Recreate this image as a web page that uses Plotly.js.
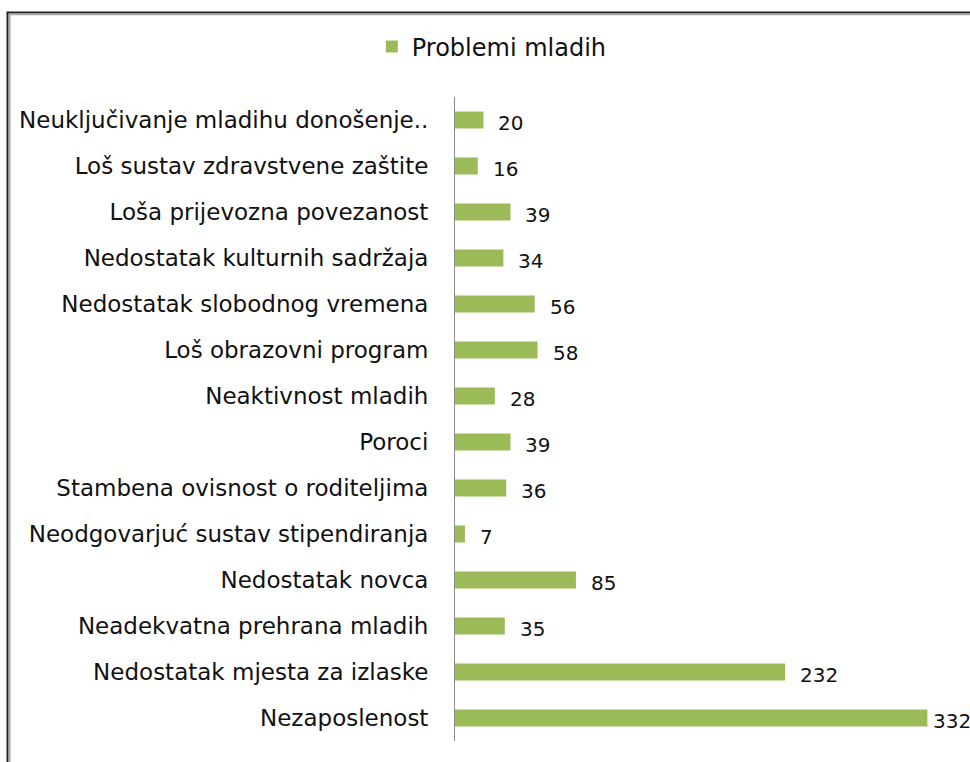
<!DOCTYPE html>
<html>
<head>
<meta charset="utf-8">
<script src="https://cdn.plot.ly/plotly-3.0.1.min.js"></script>
<style>html,body{margin:0;padding:0;background:#fff;}#chart{width:970px;height:762px;}</style>
</head>
<body>
<div id="chart"></div>
<script>
var categories = [
  "Neuključivanje mladihu donošenje..",
  "Loš sustav zdravstvene zaštite",
  "Loša prijevozna povezanost",
  "Nedostatak kulturnih sadržaja",
  "Nedostatak slobodnog vremena",
  "Loš obrazovni program",
  "Neaktivnost mladih",
  "Poroci",
  "Stambena ovisnost o roditeljima",
  "Neodgovarjuć sustav stipendiranja",
  "Nedostatak novca",
  "Neadekvatna prehrana mladih",
  "Nedostatak mjesta za izlaske",
  "Nezaposlenost"
];
var values = [20, 16, 39, 34, 56, 58, 28, 39, 36, 7, 85, 35, 232, 332];
var labelShift = [13, 13, 13, 13, 13, 13, 13, 13, 13, 13, 13, 13, 13, 4];
var seriesName = "Problemi mladih";

var FONT = "DejaVu Sans, Noto Sans, sans-serif";

var trace = {
  type: "bar",
  orientation: "h",
  name: seriesName,
  y: categories,
  x: values,
  marker: {color: "#9bbb59"},
  width: 0.37,
  showlegend: true,
  hoverinfo: "x+y"
};

var annotations = values.map(function (v, i) {
  return {
    x: v, y: categories[i], xref: "x", yref: "y",
    text: String(v), showarrow: false,
    xanchor: "left", yanchor: "middle",
    xshift: labelShift[i], yshift: -3,
    font: {family: FONT, size: 20, color: "#111"}
  };
});

var layout = {
  width: 970, height: 762,
  margin: {l: 455, r: 17, t: 97, b: 21},
  paper_bgcolor: "#ffffff",
  plot_bgcolor: "#ffffff",
  font: {family: FONT, size: 21, color: "#111"},
  bargap: 0.63,
  xaxis: {
    range: [0, 350],
    visible: false,
    showgrid: false,
    zeroline: false,
    fixedrange: true
  },
  yaxis: {
    autorange: "reversed",
    showline: true,
    linecolor: "#8c8c8c",
    linewidth: 1,
    ticks: "",
    showgrid: false,
    zeroline: false,
    ticklabelstandoff: 21,
    tickfont: {family: FONT, size: 23, color: "#111"}
  },
  showlegend: true,
  legend: {
    orientation: "h",
    xref: "container", yref: "container",
    x: 0.507, xanchor: "center",
    y: 1 - 47 / 762, yanchor: "middle",
    font: {family: FONT, size: 24, color: "#111"},
    bgcolor: "rgba(0,0,0,0)"
  },
  annotations: annotations,
  shapes: [
    {type: "line", xref: "paper", yref: "paper",
     x0: (8 - 455) / 498, x1: (990 - 455) / 498,
     y0: 1 + (97 - 12.5) / 644, y1: 1 + (97 - 12.5) / 644,
     line: {color: "#222", width: 2}},
    {type: "line", xref: "paper", yref: "paper",
     x0: (9 - 455) / 498, x1: (990 - 455) / 498,
     y0: 1 + (97 - 14.5) / 644, y1: 1 + (97 - 14.5) / 644,
     line: {color: "#aaa", width: 1.5}},
    {type: "line", xref: "paper", yref: "paper",
     x0: (7.5 - 455) / 498, x1: (7.5 - 455) / 498,
     y0: 1 + (97 - 11.5) / 644, y1: -0.1,
     line: {color: "#222", width: 2}},
    {type: "line", xref: "paper", yref: "paper",
     x0: (9.8 - 455) / 498, x1: (9.8 - 455) / 498,
     y0: 1 + (97 - 13.5) / 644, y1: -0.1,
     line: {color: "#aaa", width: 1.5}}
  ]
};

Plotly.newPlot("chart", [trace], layout, {displayModeBar: false, staticPlot: true});
</script>
</body>
</html>
